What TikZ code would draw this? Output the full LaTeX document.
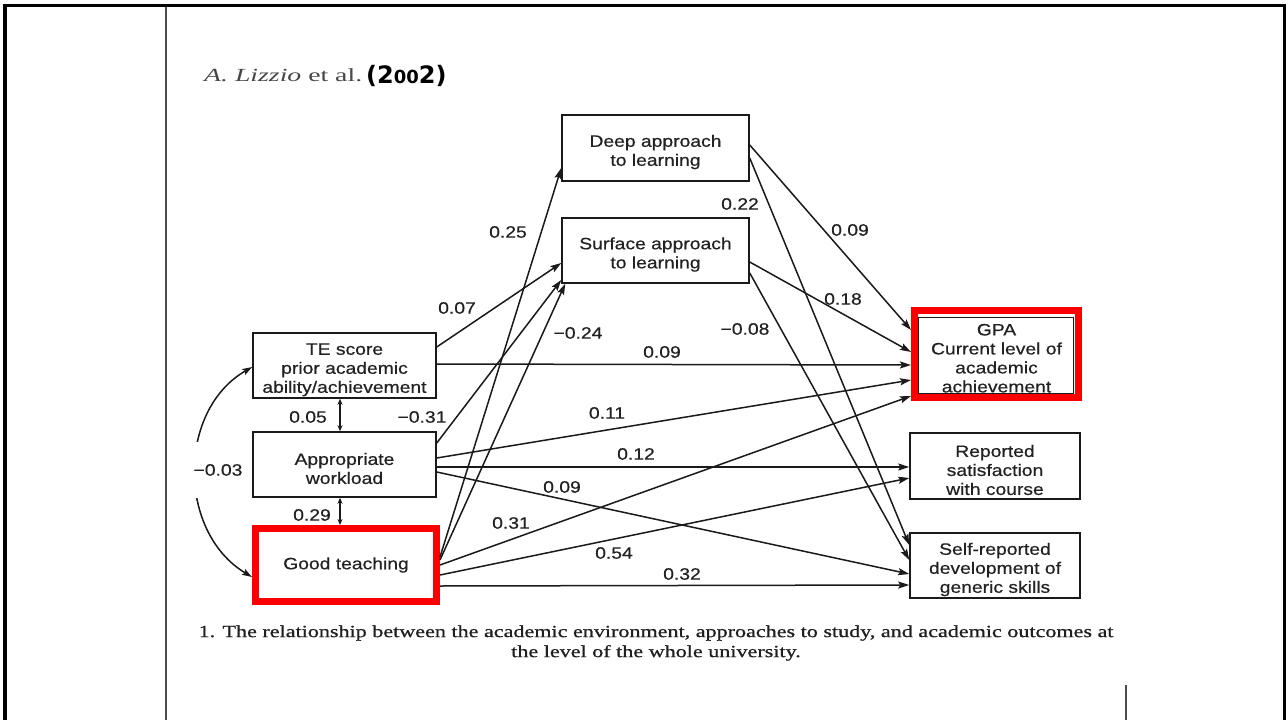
\documentclass[tikz,border=0pt]{standalone}
\usepackage{fontspec}
\usepackage{graphicx}
\usetikzlibrary{arrows.meta}
\newfontfamily\nodefont[FakeStretch=1.17,FakeBold=0.5]{Liberation Sans}
\newfontfamily\capfont[FakeStretch=1.30,FakeBold=0.8]{Liberation Serif}
\newfontfamily\ttlfont[FakeStretch=1.5]{Liberation Serif}
\newfontfamily\handfont{DejaVu Sans}
\newcommand{\upstrut}{\rule{0pt}{20pt}}
\definecolor{ink}{HTML}{1A1A1A}
\definecolor{txt}{HTML}{222222}
\definecolor{hl}{RGB}{250,0,0}
\tikzset{
 box/.style={draw=ink, line width=1.5pt, fill=white, align=center, inner sep=0pt, text=txt, font=\nodefont\fontsize{16.5}{19}\selectfont},
 redbox/.style={box, draw=hl, line width=7pt},
 arr/.style={draw=ink, line width=1.5pt, -{Stealth[length=11pt,width=7pt,inset=2pt]}},
 dbl/.style={draw=ink, line width=1.5pt, {Stealth[length=6pt,width=5pt]}-{Stealth[length=6pt,width=5pt]}},
 curv/.style={draw=ink, line width=1.5pt, {Stealth[length=10pt,width=6.5pt,inset=2pt]}-{Stealth[length=10pt,width=6.5pt,inset=2pt]}},
 lbl/.style={text=txt, font=\nodefont\fontsize{16.5}{19}\selectfont, inner sep=1pt},
}
\begin{document}
\begin{tikzpicture}[x=1pt,y=-1pt]
\useasboundingbox (0,0) rectangle (1288,720);
\fill[white] (0,0) rectangle (1288,720);
% frame
\draw[black, line width=3.6pt] (5,720) -- (5,5.3) -- (1284.5,5.3) -- (1284.5,720);
\draw[gray!60!black, line width=1.3pt] (166,7) -- (166,720);
\draw[gray!60!black, line width=1.3pt] (1126,685) -- (1126,720);
% title
\node[anchor=base west, font=\ttlfont\fontsize{18.5}{20}\selectfont, text=black!72, inner sep=0pt] (ttl) at (204,81) {\textit{A. Lizzio} et al.};
\node[anchor=base west, font=\handfont\bfseries\fontsize{24}{26}\selectfont, text=black, inner sep=0pt] (yr) at (366,83) {(2\scalebox{0.75}{0}\scalebox{0.75}{0}2)};
% nodes
\node[box, minimum width=187pt, minimum height=66pt] (deep) at (655.5,148) {\upstrut Deep approach\\to learning};
\node[box, minimum width=187pt, minimum height=65pt] (surf) at (655.5,250.5) {\upstrut Surface approach\\to learning};
\node[box, minimum width=183pt, minimum height=65pt] (te) at (344.5,365.5) {\upstrut TE score\\prior academic\\ability/achievement};
\node[box, minimum width=183pt, minimum height=65pt] (wl) at (344.5,464.5) {\upstrut Appropriate\\workload};
\node[redbox, minimum width=181pt, minimum height=73pt] (gt) at (346,565) {Good teaching};
\node[redbox, minimum width=164pt, minimum height=87pt] (gpa) at (996.5,354) {\upstrut GPA\\Current level of\\academic\\achievement};
\draw[ink, line width=1.2pt] ([xshift=7.5pt,yshift=-10.5pt]gpa.north west) rectangle ([xshift=-8.5pt,yshift=7.5pt]gpa.south east);
\node[box, minimum width=170pt, minimum height=66pt] (sat) at (995,466) {\upstrut Reported\\satisfaction\\with course};
\node[box, minimum width=170pt, minimum height=65pt] (self) at (995,565.5) {\upstrut Self-reported\\development of\\generic skills};
% arrows
\draw[arr] ([yshift=18.5pt]te.east) -- ([yshift=-12.5pt]surf.west);
\draw[arr] ([yshift=1.5pt]te.east) -- ([yshift=-11pt]gpa.west);
\draw[arr] ([yshift=21.5pt]wl.east) -- ([yshift=-29.5pt]surf.west);
\draw[arr] ([yshift=6.5pt]wl.east) -- ([yshift=-26pt]gpa.west);
\draw[arr] ([yshift=-2.5pt]wl.east) -- ([yshift=-1pt]sat.west);
\draw[arr] ([yshift=-7.5pt]wl.east) -- ([yshift=-8.5pt]self.west);
\draw[arr] ([yshift=8pt]gt.east) -- ([yshift=-20pt]deep.west);
\draw[arr] ([yshift=5pt]gt.east) -- ([xshift=4pt]surf.south west);
\draw[arr] (gt.east) -- ([yshift=-42pt]gpa.west);
\draw[arr] ([yshift=-10pt]gt.east) -- ([yshift=-12pt]sat.west);
\draw[arr] ([yshift=-21pt]gt.east) -- ([yshift=-19.5pt]self.west);
\draw[arr] ([yshift=3pt]deep.east) -- ([yshift=24pt]gpa.west);
\draw[arr] ([yshift=-10pt]deep.east) -- ([yshift=20.5pt]self.west);
\draw[arr] ([yshift=-11.5pt]surf.east) -- ([yshift=2pt]gpa.west);
\draw[arr] ([yshift=-22.5pt]surf.east) -- ([yshift=5.5pt]self.west);
% correlations
\draw[dbl] ([xshift=-4.5pt]te.south) -- ([xshift=-4.5pt]wl.north);
\draw[dbl] ([xshift=-4.5pt]wl.south) -- ([xshift=-6pt]gt.north);
\draw[curv] ([yshift=-12pt]gt.west) .. controls +(-75,-45) and +(-75,43) .. ([yshift=-1.5pt]te.west);
% labels
\node[lbl, fill=white, minimum height=56pt, inner xsep=4pt] (l0) at (218,470) {−0.03};
\node[lbl] (l1) at (308,417) {0.05};
\node[lbl] (l2) at (312,515) {0.29};
\node[lbl] (l3) at (422,417) {−0.31};
\node[lbl] (l4) at (457,308) {0.07};
\node[lbl] (l5) at (508,232) {0.25};
\node[lbl] (l6) at (578,333) {−0.24};
\node[lbl] (l7) at (662,352) {0.09};
\node[lbl] (l8) at (607,413) {0.11};
\node[lbl] (l9) at (636,454) {0.12};
\node[lbl] (l10) at (562,487) {0.09};
\node[lbl] (l11) at (511,523) {0.31};
\node[lbl] (l12) at (614,553) {0.54};
\node[lbl] (l13) at (682,574) {0.32};
\node[lbl] (l14) at (740,204) {0.22};
\node[lbl] (l15) at (850,230) {0.09};
\node[lbl] (l16) at (843,299) {0.18};
\node[lbl] (l17) at (745,329) {−0.08};
% caption
\node[font=\capfont\fontsize{17}{20}\selectfont, text=black!88, align=center, inner sep=0pt] (cap) at (656,643) {1. The relationship between the academic environment, approaches to study, and academic outcomes at\\the level of the whole university.};
\end{tikzpicture}
\end{document}
